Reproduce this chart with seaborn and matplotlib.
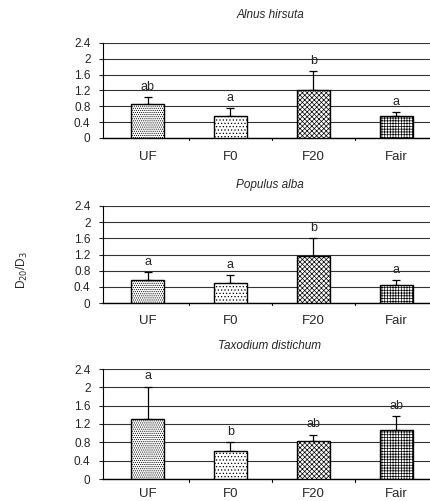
import matplotlib
matplotlib.use("Agg")
import matplotlib.pyplot as plt
import seaborn as sns
import pandas as pd
import numpy as np

categories = ["UF", "F0", "F20", "Fair"]
species = ["Alnus hirsuta", "Populus alba", "Taxodium distichum"]
means_alnus = [0.87, 0.56, 1.21, 0.56]
err_alnus = [0.17, 0.19, 0.49, 0.09]
letters_alnus = ["ab", "a", "b", "a"]
means_populus = [0.57, 0.50, 1.17, 0.44]
err_populus = [0.20, 0.19, 0.43, 0.12]
letters_populus = ["a", "a", "b", "a"]
means_taxodium = [1.31, 0.62, 0.82, 1.07]
err_taxodium = [0.70, 0.18, 0.15, 0.30]
letters_taxodium = ["a", "b", "ab", "ab"]
yticks = [0, 0.4, 0.8, 1.2, 1.6, 2.0, 2.4]
ytick_labels = ["0", "0.4", "0.8", "1.2", "1.6", "2", "2.4"]

sns.set_style("white")
plt.rcParams["font.family"] = ["Liberation Sans", "DejaVu Sans"]
plt.rcParams["hatch.color"] = "#666666"
plt.rcParams["hatch.linewidth"] = 0.5

fig = plt.figure(figsize=(4.31, 5.01), dpi=100)
W, H = 431, 501
panels = [(43, 138, 28, 19), (206, 303, 21, 18), (369, 479, 23, 15)]
left_px = 103
datasets = [
    (means_alnus, err_alnus, letters_alnus),
    (means_populus, err_populus, letters_populus),
    (means_taxodium, err_taxodium, letters_taxodium),
]
hatches = ["........", ".....", "xxxxxxx", "++++++"]

for (top, bot, tgap, lgap), name, (m, e, let) in zip(panels, species, datasets):
    ax = fig.add_axes([left_px / W, 1 - bot / H, 1 - left_px / W, (bot - top) / H])
    df = pd.DataFrame({"cat": categories, "val": m})
    sns.barplot(data=df, x="cat", y="val", hue="cat", palette=["white"] * 4,
                edgecolor="black", linewidth=1.0, width=0.4, legend=False, ax=ax,
                zorder=3)
    for p, h in zip(ax.patches, hatches):
        p.set_hatch(h)
        p.set_zorder(3)
    x = np.arange(len(categories))
    ax.errorbar(x, m, yerr=[np.zeros(len(e)), e], fmt="none", ecolor="black",
                elinewidth=0.9, capsize=3, capthick=0.9, zorder=2)
    for xi, mi, ei, li in zip(x, m, e, let):
        ax.text(xi, mi + ei + 0.1, li, ha="center", va="bottom", fontsize=9)
    ax.set_ylim(0, 2.4)
    ax.set_xlim(-0.537, 3.42)
    ax.set_yticks(yticks)
    ax.set_yticklabels(ytick_labels, fontsize=8.5)
    ax.yaxis.grid(True, color="#333333", linewidth=0.8, zorder=0)
    ax.set_axisbelow(True)
    ax.set_xticks(x)
    ax.set_xticklabels(categories, fontsize=9.5)
    ax.tick_params(axis="x", length=0, pad=lgap * 0.72 - 4.5)
    ax.tick_params(axis="y", length=3, width=0.8, direction="out", pad=6, left=True)
    for b in [0.5, 1.5, 2.5]:
        ax.plot([b, b], [0, -0.06], color="black", lw=0.8, clip_on=False,
                transform=ax.transData)
    ax.set_xlabel("")
    ax.set_ylabel("")
    for s in ["top", "right"]:
        ax.spines[s].set_visible(False)
    ax.spines["left"].set_color("black")
    ax.spines["bottom"].set_color("black")
    ax.spines["left"].set_linewidth(0.8)
    ax.spines["bottom"].set_linewidth(1.0)
    fig.text(270 / W, 1 - (top - tgap) / H, name, fontsize=8.5, style="italic",
             ha="center", va="center")

fig.text(22 / W, 1 - 270 / H, "D$_{20}$/D$_3$", rotation=90, ha="center",
         va="center", fontsize=8.5)

fig.savefig("out.png", dpi=100)
